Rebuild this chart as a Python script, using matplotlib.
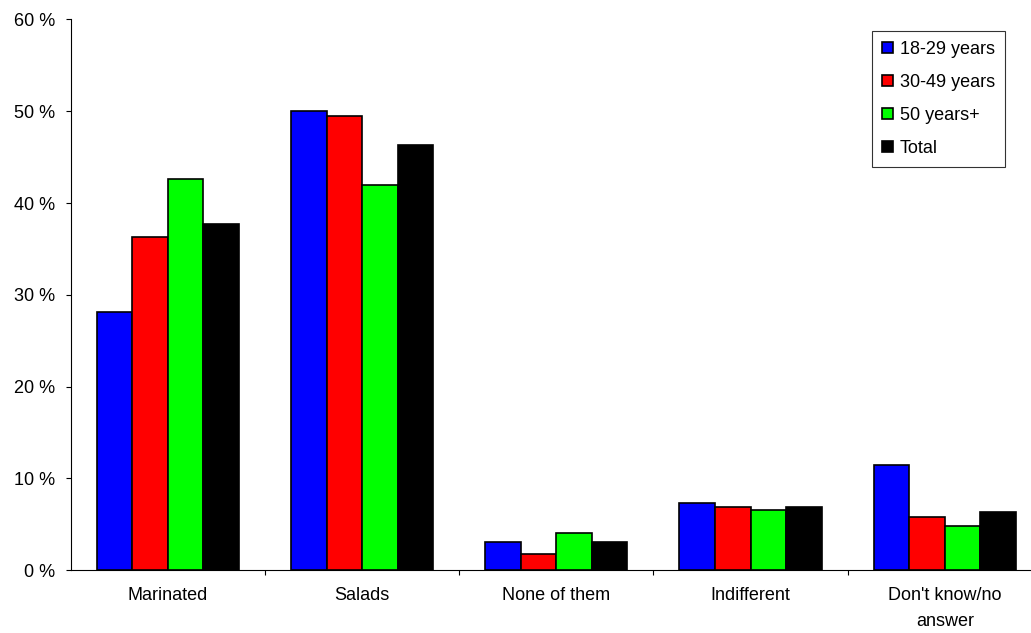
import numpy as np
import matplotlib.pyplot as plt
from matplotlib.ticker import FixedLocator, FuncFormatter

plt.rcParams['font.family'] = ['Liberation Sans', 'DejaVu Sans']

categories = ['Marinated', 'Salads', 'None of them', 'Indifferent', "Don't know/no\nanswer"]
age_18_29 = [28.1, 50.0, 3.05, 7.3, 11.5]
age_30_49 = [36.3, 49.5, 1.7, 6.85, 5.75]
age_50_plus = [42.6, 42.0, 4.0, 6.5, 4.75]
total = [37.7, 46.3, 3.1, 6.9, 6.35]

series = [('18-29 years', age_18_29, '#0000ff'),
          ('30-49 years', age_30_49, '#ff0000'),
          ('50 years+', age_50_plus, '#00ff00'),
          ('Total', total, '#000000')]

fig = plt.figure(figsize=(10.31, 6.33), dpi=100)
ax = fig.add_axes([0.0686, 0.0995, 0.942, 0.8697])

x = np.arange(len(categories))
w = 0.183
offsets = [-1.5 * w, -0.5 * w, 0.5 * w, 1.5 * w]
for (name, vals, col), off in zip(series, offsets):
    ax.bar(x + off, vals, w, color=col, edgecolor='black', linewidth=1.2, label=name)

ax.set_xlim(-0.5, len(categories) - 0.5)
ax.set_ylim(0, 60)
ax.set_yticks(np.arange(0, 61, 10))
ax.yaxis.set_major_formatter(FuncFormatter(lambda v, p: '%d %%' % v))
ax.tick_params(axis='y', direction='out', length=3.6, width=0.8, pad=7.5, labelsize=13)

ax.set_xticks(x)
ax.set_xticklabels(categories, fontsize=13, linespacing=1.75)
ax.tick_params(axis='x', which='major', length=0, pad=12)
ax.xaxis.set_minor_locator(FixedLocator(x[:-1] + 0.5))
ax.tick_params(axis='x', which='minor', direction='out', length=3.6, width=0.8)

for s in ['top', 'right']:
    ax.spines[s].set_visible(False)
ax.spines['left'].set_linewidth(0.8)
ax.spines['bottom'].set_linewidth(0.8)

leg = fig.legend(loc='upper left', bbox_to_anchor=(0.8458, 0.951), fontsize=13,
                 frameon=True, fancybox=False, edgecolor='black',
                 handlelength=0.6, handleheight=0.6, handletextpad=0.4,
                 labelspacing=0.88, borderpad=0.55, borderaxespad=0)
leg.get_frame().set_linewidth(0.8)

plt.savefig('out.png', dpi=100)
